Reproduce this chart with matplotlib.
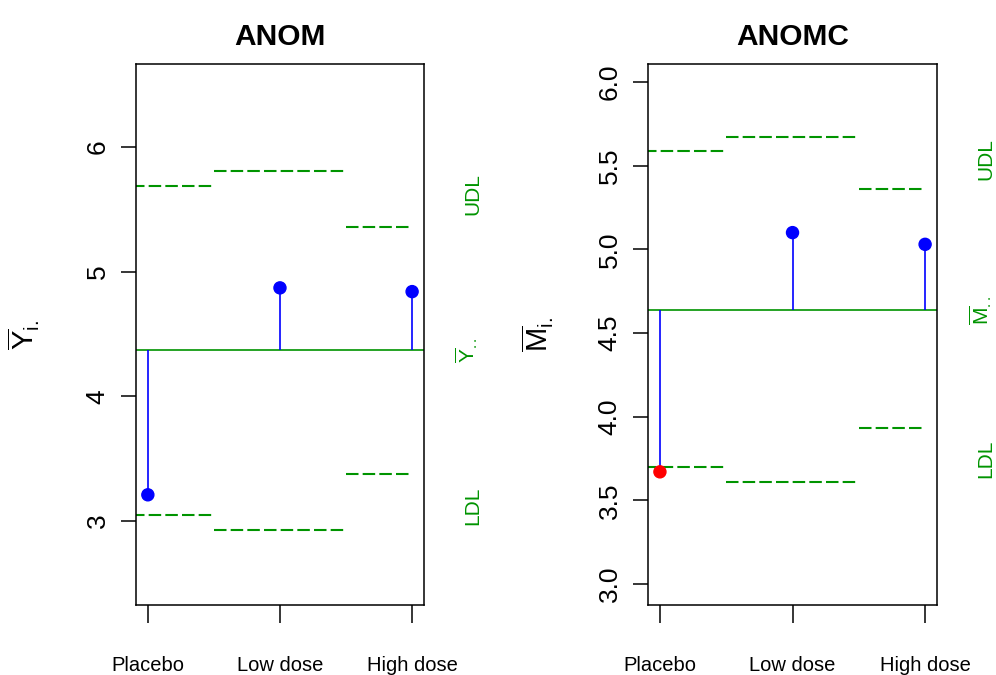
""" ANOM / ANOMC decision charts """

import matplotlib
matplotlib.use('Agg')
import matplotlib.pyplot as plt
import matplotlib.transforms as mtransforms

plt.rcParams['font.family'] = ['Liberation Sans', 'DejaVu Sans']
plt.rcParams['mathtext.fontset'] = 'custom'
plt.rcParams['mathtext.rm'] = 'Liberation Sans'
plt.rcParams['mathtext.it'] = 'Liberation Sans'

groups = ['Placebo', 'Low dose', 'High dose']

anom_means = [3.21, 4.87, 4.84]
anom_center = 4.37
anom_udl = [5.69, 5.81, 5.36]
anom_ldl = [3.05, 2.93, 3.38]

anomc_means = [3.67, 5.10, 5.03]
anomc_center = 4.635
anomc_udl = [5.59, 5.67, 5.36]
anomc_ldl = [3.70, 3.61, 3.93]

GREEN = '#009400'


def anom_panel(ax, means, center, udl, ldl, title, clab, ylim, yticks, yfmt):
    ''' draw one ANOM chart on ax '''
    x = list(range(1, len(groups) + 1))
    # decision limits as steps
    starts = [0.5, 1.5, 2.5]
    ends = [1.5, 2.5, 3.0]
    for s, e, u, l in zip(starts, ends, udl, ldl):
        ax.hlines([u, l], s, e, colors=GREEN, linestyles=(0, (6, 2)), lw=1.5)
    ax.axhline(center, color=GREEN, lw=1.2)

    # stems and points
    ax.vlines(x, center, means, colors='blue', lw=1.2)
    cols = ['red' if (m > u or m < l) else 'blue' for m, u, l in zip(means, udl, ldl)]
    ax.scatter(x, means, s=75, c=cols, zorder=3)

    ax.set_xlim(0.91, 3.09)
    ax.set_ylim(*ylim)
    ax.set_xticks(x)
    ax.set_xticklabels(groups, fontsize=14.5)
    ax.set_yticks(yticks)
    ax.set_yticklabels([yfmt.format(v) for v in yticks], fontsize=19,
                       rotation=90, va='center')
    ax.tick_params(axis='x', length=13, width=1.1, pad=24)
    ax.tick_params(axis='y', length=11, width=1.1, pad=8)
    for sp in ax.spines.values():
        sp.set_linewidth(1.1)

    ax.set_title(title, fontsize=21.5, fontweight='bold', pad=14)

    # margin labels
    trans = mtransforms.blended_transform_factory(ax.transAxes, ax.transData)
    ax.text(1.17, sum(udl) / len(udl), 'UDL', color=GREEN, fontsize=15,
            rotation=90, ha='center', va='center', transform=trans)
    ax.text(1.17, sum(ldl) / len(ldl), 'LDL', color=GREEN, fontsize=15,
            rotation=90, ha='center', va='center', transform=trans)
    ax.text(1.15, center, clab, color=GREEN, fontsize=15,
            rotation=90, ha='center', va='center', transform=trans)
    return ax


fig = plt.figure(figsize=(9.96, 6.75), dpi=100)
ax1 = fig.add_axes([0.1365, 0.1037, 0.2892, 0.8015])
ax2 = fig.add_axes([0.6506, 0.1037, 0.2902, 0.8015])

anom_panel(ax1, anom_means, anom_center, anom_udl, anom_ldl, 'ANOM',
           r'$\overline{\mathrm{Y}}_{..}$', (2.326, 6.666), [3, 4, 5, 6], '{:.0f}')
anom_panel(ax2, anomc_means, anomc_center, anomc_udl, anomc_ldl, 'ANOMC',
           r'$\overline{\mathrm{M}}_{..}$', (2.874, 6.108),
           [3.0, 3.5, 4.0, 4.5, 5.0, 5.5, 6.0], '{:.1f}')

# y axis labels
fig.text(24 / 996, 1 - 335 / 675, r'$\overline{\mathrm{Y}}_{\mathrm{i.}}$', fontsize=21,
         rotation=90, ha='center', va='center')
fig.text(538 / 996, 1 - 335 / 675, r'$\overline{\mathrm{M}}_{\mathrm{i.}}$', fontsize=21,
         rotation=90, ha='center', va='center')

fig.savefig('out.png', dpi=100)
